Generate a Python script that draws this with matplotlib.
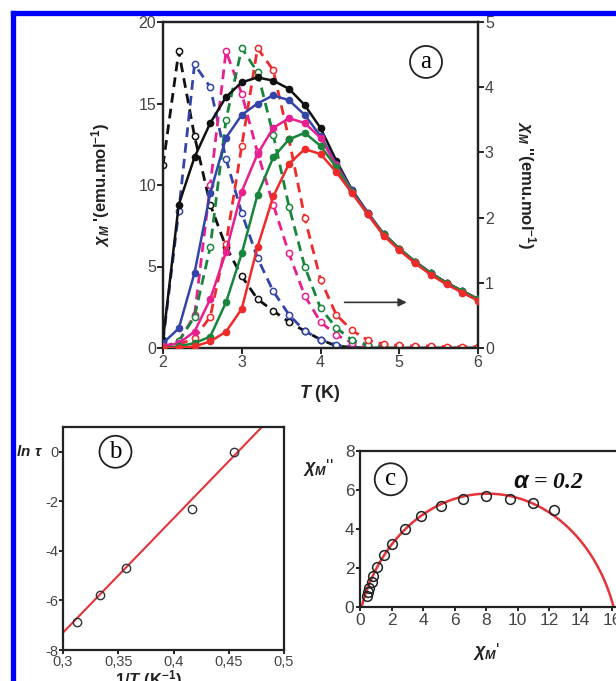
import numpy as np
import matplotlib
matplotlib.use("Agg")
import matplotlib.pyplot as plt
from matplotlib.lines import Line2D

plt.rcParams['font.family'] = ['Liberation Sans', 'DejaVu Sans']
plt.rcParams['mathtext.fontset'] = 'custom'
plt.rcParams['mathtext.it'] = 'Liberation Sans:italic:bold'
plt.rcParams['mathtext.rm'] = 'Liberation Sans:bold'

# ---------------- data: panel a ----------------
T = [2.0, 2.2, 2.4, 2.6, 2.8, 3.0, 3.2, 3.4, 3.6, 3.8, 4.0,
     4.2, 4.4, 4.6, 4.8, 5.0, 5.2, 5.4, 5.6, 5.8, 6.0]

chi1_black = [0.5, 8.8, 11.7, 13.8, 15.4, 16.3, 16.6, 16.4, 15.9, 14.9, 13.5,
              11.5, 9.7, 8.3, 7.0, 6.1, 5.3, 4.6, 4.0, 3.5, 3.0]
chi1_blue = [0.3, 1.2, 4.6, 9.5, 12.9, 14.3, 15.0, 15.5, 15.2, 14.3, 13.0,
             11.3, 9.7, 8.3, 7.0, 6.1, 5.3, 4.6, 4.0, 3.5, 3.0]
chi1_magenta = [0.1, 0.3, 1.0, 3.0, 5.9, 9.6, 11.9, 13.5, 14.1, 13.8, 12.9,
                11.2, 9.6, 8.2, 7.0, 6.1, 5.3, 4.6, 4.0, 3.5, 3.0]
chi1_green = [0.0, 0.1, 0.3, 0.7, 2.8, 5.8, 9.4, 11.7, 12.8, 13.2, 12.4,
              11.1, 9.6, 8.2, 7.0, 6.1, 5.3, 4.6, 4.0, 3.5, 3.0]
chi1_red = [0.0, 0.0, 0.1, 0.4, 1.0, 2.4, 6.2, 9.3, 11.3, 12.2, 11.9,
            10.8, 9.5, 8.2, 6.9, 6.0, 5.2, 4.5, 3.9, 3.4, 2.9]

chi2_black = [2.8, 4.55, 3.25, 2.2, 1.55, 1.1, 0.75, 0.57, 0.4, 0.26, 0.13,
              0.03, 0.01, 0.0, 0.0, 0.0, 0.0, 0.0, 0.0, 0.0, 0.0]
chi2_blue = [0.1, 2.1, 4.35, 4.0, 2.9, 2.07, 1.38, 0.87, 0.51, 0.26, 0.13,
             0.05, 0.02, 0.01, 0.0, 0.0, 0.0, 0.0, 0.0, 0.0, 0.0]
chi2_magenta = [0.02, 0.1, 0.5, 2.5, 4.55, 3.9, 3.0, 2.2, 1.45, 0.8, 0.4,
                0.2, 0.08, 0.03, 0.02, 0.01, 0.01, 0.0, 0.0, 0.0, 0.0]
chi2_green = [0.0, 0.1, 0.48, 1.55, 3.5, 4.6, 4.23, 3.27, 2.17, 1.25, 0.61,
              0.31, 0.12, 0.05, 0.03, 0.02, 0.01, 0.01, 0.0, 0.0, 0.0]
chi2_red = [0.0, 0.05, 0.15, 0.48, 1.6, 3.1, 4.6, 4.26, 3.2, 2.0, 1.05,
            0.51, 0.27, 0.12, 0.06, 0.04, 0.03, 0.03, 0.02, 0.02, 0.02]

colors = {'black': '#111111', 'blue': '#3346a8', 'magenta': '#e8208f',
          'green': '#17863c', 'red': '#ee2a2a'}

# ---------------- data: panel b ----------------
invT = [0.3125, 0.3333, 0.3571, 0.4167, 0.4545]
ln_tau = [-6.88, -5.78, -4.68, -2.3, 0.0]
fit_x = [0.3, 0.48]
fit_y = [-7.3, 1.0]

# ---------------- data: panel c ----------------
chi1_c = [0.45, 0.5, 0.6, 0.75, 0.85, 1.1, 1.5, 2.05, 2.85, 3.85, 5.15,
          6.55, 8.0, 9.55, 11.0, 12.3]
chi2_c = [0.55, 0.75, 1.0, 1.3, 1.6, 2.05, 2.65, 3.25, 4.0, 4.65, 5.2,
          5.55, 5.7, 5.55, 5.35, 5.0]
chi_s = 0.1
chi_T = 16.1
alpha = 0.2

W, H = 616, 681
fig = plt.figure(figsize=(W / 100, H / 100), dpi=100)

def fx(px):
    return px / W

def fy(py):
    return 1 - py / H

tick_col = '#444444'

# ---------- panel a ----------
ax = fig.add_axes([fx(163), fy(348), fx(478) - fx(163), fy(22) - fy(348)])
ax2 = ax.twinx()
for name, c1, c2 in [('black', chi1_black, chi2_black), ('blue', chi1_blue, chi2_blue),
                     ('magenta', chi1_magenta, chi2_magenta), ('green', chi1_green, chi2_green),
                     ('red', chi1_red, chi2_red)]:
    col = colors[name]
    ax2.plot(T, c2, ls=(0, (3.5, 2.2)), lw=2.0, color=col, marker='o', ms=4.5,
             mfc='white', mec=col, mew=1.1, zorder=2)
    ax.plot(T, c1, ls='-', lw=1.8, color=col, marker='o', ms=4.5,
            mfc=col, mec=col, zorder=3)
ax.set_zorder(ax2.get_zorder() + 1)
ax.patch.set_visible(False)

ax.set_xlim(2, 6)
ax.set_ylim(0, 20)
ax2.set_ylim(0, 5)
ax.set_xticks([2, 3, 4, 5, 6])
ax.set_yticks([0, 5, 10, 15, 20])
ax2.set_yticks([0, 1, 2, 3, 4, 5])
for a in (ax, ax2):
    a.tick_params(direction='out', length=4, width=1.2, labelsize=11.5,
                  labelcolor=tick_col, pad=1)
    for s in a.spines.values():
        s.set_linewidth(1.6)
        s.set_color('#222222')

ax.annotate('', xy=(5.13, 2.8), xytext=(4.27, 2.8),
            arrowprops=dict(arrowstyle='-|>', color='#333333', lw=1.2,
                            mutation_scale=12))
ax.text(5.34, 17.55, 'a', fontsize=18, family='Liberation Serif', ha='center',
        va='center', bbox=dict(boxstyle='circle,pad=0.2', fc='white', ec='#222222', lw=1.3))

fig.text(fx(101), fy(185), r"$\chi_M$ '(emu.mol$^{-1}$)", rotation=90, ha='center',
         va='center', fontsize=12, fontweight='bold', color='#222222')
fig.text(fx(526), fy(185), r"$\chi_M$ ''(emu.mol$^{-1}$)", rotation=270, ha='center',
         va='center', fontsize=12, fontweight='bold', color='#222222')
fig.text(fx(320), fy(393), r"$T$ (K)", ha='center', va='center', fontsize=13,
         fontweight='bold', color='#222222')

# ---------- panel b ----------
axb = fig.add_axes([fx(63), fy(650), fx(284) - fx(63), fy(427) - fy(650)])
axb.plot(fit_x, fit_y, color='#e4343a', lw=1.5, zorder=2)
axb.plot(invT, ln_tau, 'o', ms=6, mfc='none', mec='#333333', mew=1.0, zorder=3)
axb.set_xlim(0.3, 0.5)
axb.set_ylim(-8, 1)
axb.set_xticks([0.3, 0.35, 0.4, 0.45, 0.5])
axb.set_xticklabels(['0,3', '0,35', '0,4', '0,45', '0,5'])
axb.set_yticks([-8, -6, -4, -2, 0])
axb.set_yticklabels(['-8', '-6', '-4', '-2', '0'])
axb.tick_params(direction='out', length=3, width=1.2, labelsize=10.5,
                labelcolor=tick_col, pad=0.5)
for s in axb.spines.values():
    s.set_linewidth(1.6)
    s.set_color('#222222')
axb.text(0.3475, 0.0, 'b', fontsize=18, family='Liberation Serif', ha='center',
         va='center', bbox=dict(boxstyle='circle,pad=0.2', fc='white', ec='#222222', lw=1.3))
fig.text(fx(16), fy(452), r"$ln\ \tau$", ha='left', va='center', fontsize=11,
         color='#222222')
fig.text(fx(148), fy(680), r"$1/T$ (K$^{-1}$)", ha='center', va='center',
         fontsize=12, fontweight='bold', color='#222222')

# ---------- panel c ----------
axc = fig.add_axes([fx(360), fy(607), 18 * 15.75 / W, fy(451) - fy(607)])
w = np.logspace(-4, 4, 600)
z = chi_s + (chi_T - chi_s) / (1 + (1j * w) ** (1 - alpha))
axc.plot(z.real, -z.imag, color='#e4343a', lw=1.8, zorder=2)
axc.plot(chi1_c, chi2_c, 'o', ms=7, mfc='none', mec='#222222', mew=1.1, zorder=3)
axc.set_xlim(0, 18)
axc.set_ylim(0, 8)
axc.set_xticks([0, 2, 4, 6, 8, 10, 12, 14, 16, 18])
axc.set_yticks([0, 2, 4, 6, 8])
axc.tick_params(direction='out', length=3, width=1.2, labelsize=12.5,
                labelcolor=tick_col, pad=1)
for s in axc.spines.values():
    s.set_linewidth(1.6)
    s.set_color('#222222')
axc.text(1.95, 6.55, 'c', fontsize=18, family='Liberation Serif', ha='center',
         va='center', bbox=dict(boxstyle='circle,pad=0.2', fc='white', ec='#222222', lw=1.3))
fig.text(fx(513), fy(482), r'$\alpha$ = 0.2', ha='left', va='center', fontsize=17,
         family='Liberation Serif', fontweight='bold', style='italic', color='#111111')
fig.text(fx(303), fy(467), r"$\chi_M$''", ha='left', va='center', fontsize=13,
         color='#222222')
fig.text(fx(487), fy(652), r"$\chi_M$'", ha='center', va='center', fontsize=13,
         color='#222222')

# ---------- blue frame ----------
fig.add_artist(Line2D([fx(12.5), fx(12.5)], [0, fy(12.5)], color='#0000ff', lw=3.8,
                      solid_capstyle='projecting', transform=fig.transFigure))
fig.add_artist(Line2D([fx(12.5), 1], [fy(12.5), fy(12.5)], color='#0000ff', lw=3.8,
                      solid_capstyle='projecting', transform=fig.transFigure))

fig.savefig('out.png', dpi=100)
